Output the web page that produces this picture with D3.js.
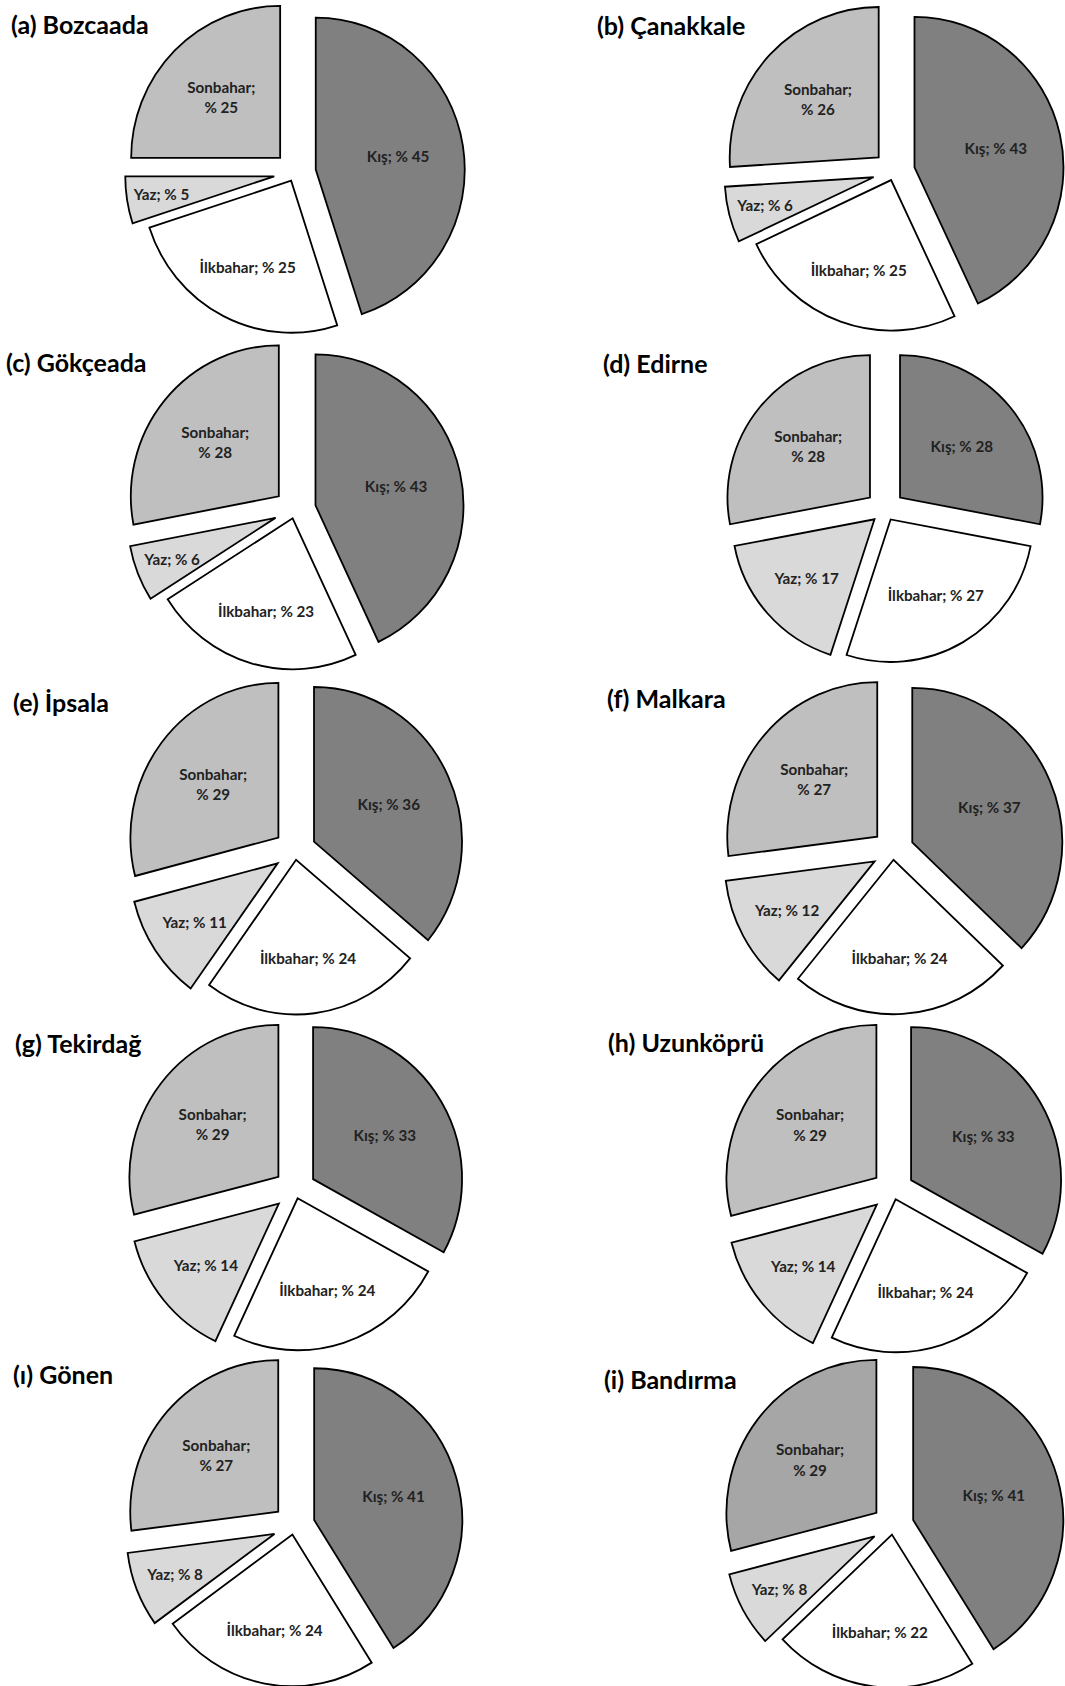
<!DOCTYPE html>
<html lang="en">
<head>
<meta charset="utf-8">
<title>Mevsimlik yağış dağılımı</title>
<script src="https://d3js.org/d3.v7.min.js"></script>
<style>
  body { margin: 0; background: #fff; }
  text { font-family: Lato, 'Open Sans', sans-serif; }
</style>
</head>
<body>
<div id="mainDiv"></div>
<script>
const width = 1065
const height = 1686

// data
const seasons = ['Kış', 'İlkbahar', 'Yaz', 'Sonbahar']
const stations = ['(a) Bozcaada', '(b) Çanakkale', '(c) Gökçeada', '(d) Edirne', '(e) İpsala',
                  '(f) Malkara', '(g) Tekirdağ', '(h) Uzunköprü', '(ı) Gönen', '(i) Bandırma']
const kis      = [45, 43, 43, 28, 36, 37, 33, 33, 41, 41]
const ilkbahar = [25, 25, 23, 27, 24, 24, 24, 24, 24, 22]
const yaz      = [5, 6, 6, 17, 11, 12, 14, 14, 8, 8]
const sonbahar = [25, 26, 28, 28, 29, 27, 29, 29, 27, 29]
const series = [kis, ilkbahar, yaz, sonbahar]

// styles
const fills = ['#808080', '#ffffff', '#d9d9d9', '#bfbfbf']
const explodeDefault = [21, 8.5, 21, 21]

// panel layout: pie centre, radius, vertical stretch, title position
const panels = [
    { cx: 295, cy: 173, r: 149, sy: 1.02, tx: 11, ty: 34 },
    { cx: 894, cy: 172, r: 149, sy: 1.01, tx: 597, ty: 35 },
    { cx: 295, cy: 510, r: 148, sy: 1.02, tx: 6, ty: 372 },
    { cx: 885, cy: 510, r: 142.5, sy: 1.0, tx: 603, ty: 373, explode: [19.5, 11, 14, 19.5] },
    { cx: 295, cy: 851, r: 148, sy: 1.045, tx: 13, ty: 712 },
    { cx: 893, cy: 851, r: 150, sy: 1.03, tx: 607, ty: 708 },
    { cx: 295, cy: 1190, r: 149, sy: 1.02, tx: 15, ty: 1053 },
    { cx: 893, cy: 1191, r: 150, sy: 1.02, tx: 608, ty: 1052 },
    { cx: 294, cy: 1526, r: 148, sy: 1.025, tx: 13, ty: 1384 },
    { cx: 893, cy: 1526, r: 150, sy: 1.02, tx: 604, ty: 1389, sonFill: '#a6a6a6' }
]

const svg = d3.select('#mainDiv').append('svg')
    .attr('width', width)
    .attr('height', height)

const pie = d3.pie().sort(null).value(d => d.value)
const labelSize = 15.2
const lineH = 20.5

panels.forEach((p, i) => {
    const data = seasons.map((s, j) => ({ season: s, value: series[j][i] }))
    const arcs = pie(data)
    const arc = d3.arc().innerRadius(0).outerRadius(p.r)
    const explode = p.explode || explodeDefault
    const mid = d => (d.startAngle + d.endAngle) / 2

    const g = svg.append('g')
        .attr('transform', `translate(${p.cx},${p.cy}) scale(1,${p.sy})`)

    g.selectAll('path')
        .data(arcs)
        .join('path')
        .attr('d', arc)
        .attr('transform', d => {
            const e = explode[d.index]
            return `translate(${e * Math.sin(mid(d))},${-e * Math.cos(mid(d))})`
        })
        .attr('fill', d => (d.index === 3 && p.sonFill) ? p.sonFill : fills[d.index])
        .attr('stroke', '#000')
        .attr('stroke-width', 1.8)

    // labels: thin slices get pushed outwards, like Excel's best fit
    const lg = svg.append('g').attr('transform', `translate(${p.cx},${p.cy})`)
    arcs.forEach(d => {
        const k = Math.max(0.7, 0.98 - 0.0145 * d.data.value)
        const x = k * p.r * Math.sin(mid(d))
        const y = -k * p.r * Math.cos(mid(d)) * p.sy
        const t = lg.append('text')
            .attr('text-anchor', 'middle')
            .attr('font-size', labelSize)
            .attr('font-weight', 'bold')
            .attr('fill', '#222')
        if (d.data.season === 'Sonbahar') {
            const b = y - lineH / 2 + labelSize * 0.35
            t.append('tspan').attr('x', x).attr('y', b).text(d.data.season + ';')
            t.append('tspan').attr('x', x).attr('y', b + lineH).text('% ' + d.data.value)
        } else {
            t.attr('x', x).attr('y', y + labelSize * 0.35)
                .text(`${d.data.season}; % ${d.data.value}`)
        }
    })

    svg.append('text')
        .attr('x', p.tx)
        .attr('y', p.ty)
        .attr('font-size', 25)
        .attr('font-weight', 'bold')
        .attr('fill', '#000')
        .text(stations[i])
})
</script>
</body>
</html>
